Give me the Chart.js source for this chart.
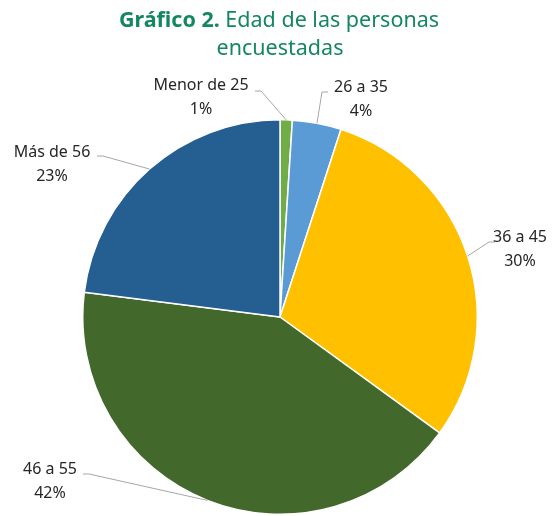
<!DOCTYPE html>
<html><head><meta charset="utf-8">
<script src="https://cdn.jsdelivr.net/npm/chart.js@4/dist/chart.umd.min.js"></script>
<style>html,body{margin:0;padding:0;background:#fff}#wrap{width:559px;height:516px}</style>
</head><body><div id="wrap"><canvas id="c" width="559" height="516"></canvas></div>
<script>
const categories = ["Menor de 25", "26 a 35", "36 a 45", "46 a 55", "Más de 56"];
const values = [1, 4, 30, 42, 23];
const percentLabels = ["1%", "4%", "30%", "42%", "23%"];
const colors = ["#70ad47", "#5b9bd5", "#ffc000", "#43682b", "#255e91"];
// label text centres and leader elbows (layout only)
const labelLayout = [
  {tx: 201, ty: 85, l0: [255, 91], l1: [261, 91]},
  {tx: 361, ty: 87, l0: [328, 92], l1: [322, 92]},
  {tx: 520, ty: 237, l0: [495, 242], l1: [489, 242]},
  {tx: 50, ty: 469, l0: [83, 474], l1: [89, 474]},
  {tx: 52, ty: 152, l0: [97, 156], l1: [103, 156]}
];
const FONT = "'Noto Sans', sans-serif";
const labelPlugin = {
  id: 'labels',
  afterDraw(chart) {
    const ctx = chart.ctx;
    const meta = chart.getDatasetMeta(0);
    ctx.save();
    // title
    ctx.fillStyle = "#14875f";
    ctx.textBaseline = 'middle';
    ctx.textAlign = 'left';
    const bold = "Gráfico 2. ", rest = "Edad de las personas";
    const TS = 21.5;
    ctx.font = "bold " + TS + "px " + FONT;
    const wb = ctx.measureText(bold).width;
    ctx.font = TS + "px " + FONT;
    const wr = ctx.measureText(rest).width;
    const x0 = 279 - (wb + wr) / 2;
    ctx.font = "bold " + TS + "px " + FONT;
    ctx.fillText(bold, x0, 21);
    ctx.font = TS + "px " + FONT;
    ctx.fillText(rest, x0 + wb, 21);
    ctx.textAlign = 'center';
    ctx.fillText("encuestadas", 280, 49);
    // labels
    meta.data.forEach((arc, i) => {
      const p = arc.getProps(['x', 'y', 'startAngle', 'endAngle', 'outerRadius'], true);
      const mid = (p.startAngle + p.endAngle) / 2;
      const ax = p.x + Math.cos(mid) * p.outerRadius;
      const ay = p.y + Math.sin(mid) * p.outerRadius;
      const L = labelLayout[i];
      ctx.strokeStyle = "#a6a6a6";
      ctx.lineWidth = 1;
      ctx.beginPath();
      ctx.moveTo(L.l0[0], L.l0[1]);
      ctx.lineTo(L.l1[0], L.l1[1]);
      ctx.lineTo(ax, ay);
      ctx.stroke();
      ctx.fillStyle = "#262626";
      ctx.font = "16px " + FONT;
      ctx.textAlign = 'center';
      ctx.textBaseline = 'middle';
      ctx.fillText(categories[i], L.tx, L.ty);
      ctx.fillText(percentLabels[i], L.tx, L.ty + 24);
    });
    ctx.restore();
  }
};
new Chart(document.getElementById('c'), {
  type: 'pie',
  data: { labels: categories, datasets: [{ data: values, backgroundColor: colors, borderColor: '#ffffff', borderWidth: 1.5 }] },
  options: {
    responsive: false, animation: false,
    layout: { padding: { top: 119, bottom: 1, left: 1, right: 0 } },
    plugins: { legend: { display: false }, tooltip: { enabled: false }, title: { display: false } }
  },
  plugins: [labelPlugin]
});
</script></body></html>
